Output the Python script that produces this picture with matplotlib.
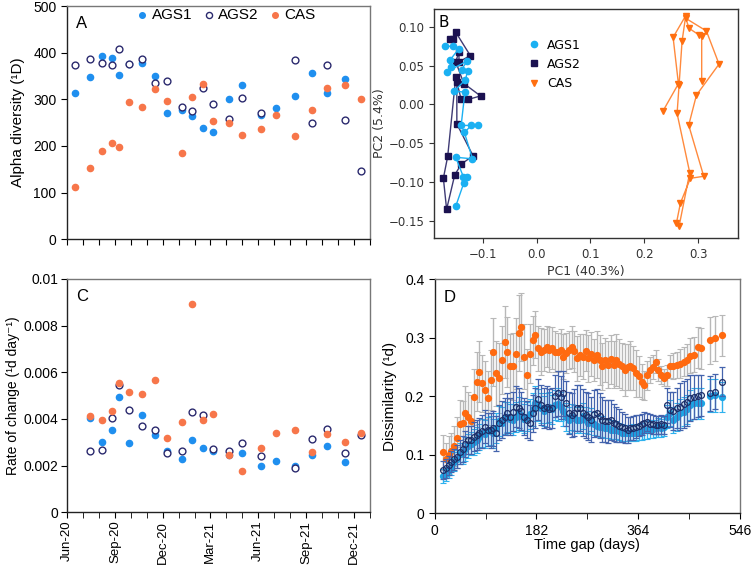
import numpy as np
import pandas as pd
import matplotlib
matplotlib.use("Agg")
import matplotlib.pyplot as plt
import matplotlib.dates as mdates
from matplotlib.ticker import MultipleLocator, FixedLocator

plt.rcParams['font.family'] = ['Liberation Sans', 'DejaVu Sans']

# ---------------- data ----------------
sample_dates = ['2020-06-17', '2020-07-14', '2020-08-07', '2020-08-26', '2020-09-08', '2020-09-28',
                '2020-10-22', '2020-11-17', '2020-12-09', '2021-01-07', '2021-01-26', '2021-02-16',
                '2021-03-07', '2021-04-06', '2021-05-02', '2021-06-07', '2021-07-05', '2021-08-10',
                '2021-09-12', '2021-10-10', '2021-11-14', '2021-12-15']
nan = np.nan
alpha_ags1 = [313.6, 347.8, 392.8, 388.5, 352.8, 376.3, 377, 349, 271, 276.4, 263.5, 239, 230.6,
              300, 330.6, 266.3, 282, 306.4, 356.3, 312.8, 343.5, nan]
alpha_ags2 = [373.6, 386.4, 377, 374, 407, 376.4, 387, 336, 338.6, 284, 275, 324, 289, 258, 303.6,
              270, nan, 384, 248.6, 373.6, 255.7, 146.4]
alpha_cas = [112.9, 152, 190, 206.4, 197, 293.6, 283, 323, 296.4, 185.7, 305.7, 333, 253, 250, 224,
             236.4, 266.4, 221.4, 276.4, 325, 330.7, 300]

rate_ags1 = [.00406, .00301, .00351, .00496, .00299, .00416, .00331, .00263, .00229, .00311, .00277,
             .00263, .00244, .00253, .00200, .00220, .00199, .00244, .00286, .00216, nan]
rate_ags2 = [.00263, .00269, .00406, .00544, .00440, .00371, .00354, .00253, .00263, .00430, .00416,
             .00271, .00264, .00299, .00243, nan, .00191, .00314, .00359, .00253, .00331]
rate_cas = [.00414, .00394, .00433, .00554, .00514, .00509, .00569, .00320, .00387, .00894, .00394,
            .00423, .00244, .00176, .00277, .00341, .00351, .00257, .00337, .00303, .00340]

pc1_ags1 = [-0.170, -0.156, -0.144, -0.161, -0.158, -0.167, -0.129, -0.139, -0.128, -0.132, -0.153,
            -0.133, -0.140, -0.109, -0.121, -0.134, -0.119, -0.150, -0.136, -0.129, -0.135, -0.150]
pc2_ags1 = [0.075, 0.075, 0.072, 0.057, 0.048, 0.042, 0.056, 0.045, 0.043, 0.032, 0.017,
            0.016, -0.027, -0.027, -0.027, -0.036, -0.070, -0.068, -0.093, -0.093, -0.101, -0.131]
pc1_ags2 = [-0.161, -0.156, -0.150, -0.123, -0.144, -0.144, -0.150, -0.135, -0.104, -0.127, -0.140,
            -0.148, -0.148, -0.118, -0.140, -0.152, -0.167, -0.173, -0.165, -0.150]
pc2_ags2 = [0.084, 0.084, 0.093, 0.063, 0.055, 0.068, 0.055, 0.027, 0.011, 0.0065, 0.0065,
            0.029, -0.025, -0.066, -0.077, -0.091, -0.135, -0.095, -0.067, 0.035]
pc1_cas = [0.2349, 0.2634, 0.2535, 0.2770, 0.2702, 0.2646, 0.2609, 0.2844, 0.2646, 0.2597, 0.2671,
           0.2856, 0.3104, 0.2825, 0.2968, 0.3388, 0.3153, 0.2770, 0.2832, 0.3017, 0.3066, 0.3066]
pc2_cas = [-0.0082, 0.0267, 0.0865, 0.1145, 0.0818, 0.0250, -0.0116, -0.0878, -0.1570, -0.1528, -0.1270,
           -0.0951, -0.0925, -0.0267, 0.0120, 0.0520, 0.0947, 0.1110, 0.0981, 0.0895, 0.0886, 0.0301]

gap_days = [15, 20, 25, 30, 35, 40, 45, 50, 55, 60,
            65, 70, 75, 80, 85, 90, 95, 100, 105, 110,
            115, 120, 125, 130, 135, 140, 145, 150, 155, 160,
            165, 170, 175, 180, 185, 190, 195, 200, 205, 210,
            215, 220, 225, 230, 235, 240, 245, 250, 255, 260,
            265, 270, 275, 280, 285, 290, 295, 300, 305, 310,
            315, 320, 325, 330, 335, 340, 345, 350, 355, 360,
            365, 370, 375, 380, 385, 390, 395, 400, 405, 410,
            415,
            421, 427, 433, 439, 445, 451, 457, 463, 470, 477, 492, 501, 513]
dis_cas = [.104, .092, .100, .107, .115, .128, .153, .154, .172, .165,
           .158, .199, .225, .242, .222, .211, .197, .228, .276, .239,
           .231, .262, .293, .276, .251, .251, .273, .308, .319, .268,
           .236, .273, .296, .305, .282, .276, .279, .285, .280, .282,
           .276, .275, .279, .268, .274, .279, .284, .277, .265, .271,
           .268, .278, .265, .272, .262, .271, .262, .251, .262, .254,
           .263, .254, .262, .256, .251, .245, .250, .252, .248, .239,
           .234, .225, .219, .236, .245, .250, .259, .245, .236, .232,
           .236,
           .251, .252, .253, .256, .259, .262, .269, .271, .284, .282, .296, .299, .304]
err_cas = [.030, .028, .032, .030, .034, .036, .040, .038, .045, .042,
           .045, .048, .050, .052, .048, .050, .046, .052, .058, .055,
           .060, .058, .062, .060, .056, .058, .060, .065, .058, .055,
           .045, .050, .042, .040, .038, .040, .036, .035, .038, .036,
           .035, .034, .036, .038, .035, .033, .036, .035, .038, .036,
           .038, .035, .040, .038, .036, .040, .042, .040, .038, .040,
           .042, .040, .045, .042, .040, .045, .040, .042, .038, .040,
           .035, .030, .025, .025, .022, .020, .020, .018, .015, .015,
           .018,
           .020, .022, .022, .025, .025, .028, .030, .030, .035, .035, .040, .038, .035]
dis_ags1 = [.063, .068, .074, .080, .088, .093, .102, .103, .110, .115,
            .119, .122, .125, .131, .137, .135, .140, .142, .137, .146,
            .158, .155, .163, .165, .162, .160, .165, .171, .166, .162,
            .165, .170, .178, .188, .185, .180, .175, .180, .182, .178,
            .185, .186, .182, .175, .165, .160, .165, .163, .160, .160,
            .166, .160, .155, .160, .153, .150, .148, .148, .145, .145,
            .143, .142, .142, .140, .138, .137, .137, .137, .138, .137,
            .139, .140, .142, .142, .144, .144, .145, .147, .146, .148,
            .165,
            .171, .160, .165, .171, .174, .178, .185, .188, .188, .188, .201, .202, .199]
err_ags1 = [.012, .012, .014, .015, .016, .016, .018, .018, .020, .020,
            .020, .022, .022, .022, .024, .024, .025, .025, .025, .026,
            .026, .026, .028, .026, .025, .026, .026, .028, .026, .025,
            .025, .026, .028, .030, .028, .026, .025, .026, .026, .025,
            .026, .028, .025, .025, .024, .022, .022, .022, .022, .022,
            .022, .022, .020, .020, .020, .018, .018, .018, .016, .016,
            .016, .015, .015, .015, .014, .014, .014, .014, .014, .014,
            .014, .014, .015, .015, .015, .015, .015, .016, .016, .016,
            .020,
            .022, .022, .024, .025, .025, .025, .026, .026, .026, .026, .028, .028, .025]
dis_ags2 = [.074, .077, .082, .088, .092, .097, .105, .110, .118, .125,
            .125, .131, .134, .137, .140, .148, .143, .142, .145, .137,
            .155, .160, .165, .171, .165, .174, .182, .180, .175, .165,
            .160, .155, .171, .180, .195, .185, .180, .182, .178, .180,
            .200, .205, .198, .205, .188, .172, .168, .172, .180, .180,
            .172, .168, .165, .160, .170, .172, .167, .160, .158, .157,
            .159, .155, .152, .150, .148, .145, .143, .145, .146, .148,
            .150, .152, .155, .156, .153, .152, .151, .151, .152, .151,
            .185,
            .177, .175, .180, .182, .186, .190, .197, .199, .200, .202, .205, .208, .225]
err_ags2 = [.015, .016, .016, .018, .018, .020, .020, .022, .022, .024,
            .024, .025, .026, .026, .028, .028, .028, .030, .030, .030,
            .030, .032, .032, .034, .032, .034, .035, .034, .032, .032,
            .032, .030, .032, .034, .035, .034, .034, .035, .034, .035,
            .036, .038, .036, .038, .038, .036, .038, .040, .040, .040,
            .040, .040, .040, .038, .040, .040, .038, .038, .036, .036,
            .034, .032, .030, .028, .026, .024, .022, .020, .020, .020,
            .018, .018, .018, .016, .016, .016, .016, .016, .016, .016,
            .030,
            .030, .032, .035, .040, .040, .040, .040, .038, .036, .035, .030, .030, .025]

# ---------------- style ----------------
C_AGS1 = '#1f8fef'
C_AGS2 = '#2b2a6e'
C_CAS = '#f7764a'
W, H = 751, 566
fig = plt.figure(figsize=(W / 100, H / 100), dpi=100)


def rect(l, t, r, b):
    return [l / W, 1 - b / H, (r - l) / W, (b - t) / H]


def frame(ax):
    for s in ['left', 'bottom']:
        ax.spines[s].set_color('#222222')
    for s in ['top', 'right']:
        ax.spines[s].set_color('#777777')
    for s in ax.spines.values():
        s.set_linewidth(1.0)


dates = pd.to_datetime(sample_dates)
xlo, xhi = pd.Timestamp('2020-06-01'), pd.Timestamp('2022-01-01')

# ---------- Panel A ----------
axA = fig.add_axes(rect(67, 6, 370, 239.3))
axA.scatter(dates, alpha_ags1, s=20, color=C_AGS1, label='AGS1', zorder=3)
axA.scatter(dates, alpha_ags2, s=24, facecolor='white', edgecolor=C_AGS2, linewidth=1.0,
            label='AGS2', zorder=3)
axA.scatter(dates, alpha_cas, s=20, color=C_CAS, label='CAS', zorder=3)
axA.set_xlim(xlo, xhi)
axA.set_ylim(0, 500)
axA.yaxis.set_major_locator(MultipleLocator(100))
axA.xaxis.set_major_locator(mdates.MonthLocator())
axA.set_xticklabels([])
axA.tick_params(direction='out', length=4, labelsize=10)
axA.set_ylabel('Alpha diversity (¹D)', fontsize=11, labelpad=6)
frame(axA)
axA.text(0.03, 0.955, 'A', transform=axA.transAxes, fontsize=12, va='top', ha='left')
axA.legend(loc='upper center', bbox_to_anchor=(0.52, 1.03), ncol=3, frameon=False,
           fontsize=11, handletextpad=0.0, columnspacing=0.5, handlelength=1.2,
           markerscale=0.9, borderaxespad=0.2)

# ---------- Panel C ----------
axC = fig.add_axes(rect(67, 279, 370, 512.3))
axC.scatter(dates[1:], rate_ags1, s=20, color=C_AGS1, zorder=3)
axC.scatter(dates[1:], rate_ags2, s=24, facecolor='white', edgecolor=C_AGS2, linewidth=1.0, zorder=3)
axC.scatter(dates[1:], rate_cas, s=20, color=C_CAS, zorder=3)
axC.set_xlim(xlo, xhi)
axC.set_ylim(0, 0.01)
axC.set_yticks([0, 0.002, 0.004, 0.006, 0.008, 0.01])
axC.set_yticklabels(['0', '0.002', '0.004', '0.006', '0.008', '0.01'])
axC.xaxis.set_major_locator(mdates.MonthLocator(bymonth=[3, 6, 9, 12]))
axC.xaxis.set_minor_locator(mdates.MonthLocator())
axC.xaxis.set_major_formatter(mdates.DateFormatter('%b-%y'))
axC.tick_params(which='both', direction='out', length=4, labelsize=10)
axC.tick_params(axis='y', pad=2)
axC.tick_params(axis='x', labelsize=9.5, pad=2)
for lab in axC.get_xticklabels():
    lab.set_rotation(90)
axC.set_ylabel('Rate of change (¹d day⁻¹)', fontsize=10, labelpad=3)
frame(axC)
axC.text(0.03, 0.955, 'C', transform=axC.transAxes, fontsize=12, va='top', ha='left')

# ---------- Panel B ----------
axB = fig.add_axes(rect(434, 9, 738, 238))
bfont = ['DejaVu Sans']
axB.plot(pc1_ags1, pc2_ags1, '-o', color='#1ab0f2', ms=4.5, lw=1.0, label='AGS1', zorder=3)
axB.plot(pc1_ags2, pc2_ags2, '-s', color='#3e3a74', mfc='#1b1150', mec='#1b1150', ms=4.5, lw=1.0,
         label='AGS2', zorder=2)
axB.plot(pc1_cas, pc2_cas, '-v', color='#ff8a3d', mfc='#ff6f10', mec='#ff6f10', ms=4.5, lw=1.0,
         label='CAS', zorder=3)
axB.set_xlim(-0.1904, 0.374)
axB.set_ylim(-0.172, 0.123)
axB.xaxis.set_major_locator(FixedLocator([-0.1, 0.0, 0.1, 0.2, 0.3]))
axB.yaxis.set_major_locator(FixedLocator([-0.15, -0.10, -0.05, 0.0, 0.05, 0.10]))
axB.xaxis.set_major_formatter(plt.FuncFormatter(lambda v, p: ('%.1f' % v).replace('-', '\u2212')))
axB.yaxis.set_major_formatter(plt.FuncFormatter(lambda v, p: ('%.2f' % v).replace('-', '\u2212')))
axB.tick_params(direction='out', length=3.5, labelsize=8.5, colors='#333333')
for lab in axB.get_xticklabels() + axB.get_yticklabels():
    lab.set_family(bfont)
for s in axB.spines.values():
    s.set_color('#333333')
    s.set_linewidth(1.0)
axB.set_xlabel('PC1 (40.3%)', fontsize=9, family=bfont, color='#333333', labelpad=3)
axB.set_ylabel('PC2 (5.4%)', fontsize=9, family=bfont, color='#333333', labelpad=2)
axB.text(0.015, 0.975, 'B', transform=axB.transAxes, fontsize=11, va='top', ha='left', family=bfont)
legB = axB.legend(loc='upper left', bbox_to_anchor=(0.27, 0.92), frameon=False,
                  prop={'family': bfont, 'size': 9}, handlelength=1.0, handletextpad=0.6,
                  labelspacing=0.5)
for h in legB.legend_handles:
    h.set_linestyle('none')

# ---------- Panel D ----------
axD = fig.add_axes(rect(434.7, 279.3, 740, 513.3))
axD.errorbar(gap_days, dis_cas, yerr=err_cas, fmt='o', ms=4.2, color='#ff6a10', mec='#ff6a10',
             ecolor='#b8b8b8', elinewidth=1.0, capsize=2.2, capthick=0.8, zorder=2)
axD.errorbar(gap_days, dis_ags1, yerr=err_ags1, fmt='o', ms=4.2, color='#1ba6e6', mec='#1ba6e6',
             ecolor='#2fb2ee', elinewidth=1.0, capsize=2.2, capthick=0.8, zorder=3)
axD.errorbar(gap_days, dis_ags2, yerr=err_ags2, fmt='o', ms=4.2, mfc='none', mec='#1c2f68',
             mew=0.9, ecolor='#4564ad', elinewidth=0.9, capsize=2.2, capthick=0.8, zorder=4)
axD.set_xlim(0, 546)
axD.set_ylim(0, 0.4)
axD.set_xticks([0, 182, 364, 546])
axD.set_xticks([91, 273, 455], minor=True)
axD.set_yticks([0, 0.1, 0.2, 0.3, 0.4])
axD.set_yticklabels(['0', '0.1', '0.2', '0.3', '0.4'])
axD.tick_params(which='both', direction='out', length=4, labelsize=10)
axD.set_xlabel('Time gap (days)', fontsize=10.5, labelpad=0)
axD.set_ylabel('Dissimilarity (¹d)', fontsize=11, labelpad=6)
frame(axD)
axD.text(0.03, 0.955, 'D', transform=axD.transAxes, fontsize=12, va='top', ha='left')

fig.savefig('out.png', dpi=100)
